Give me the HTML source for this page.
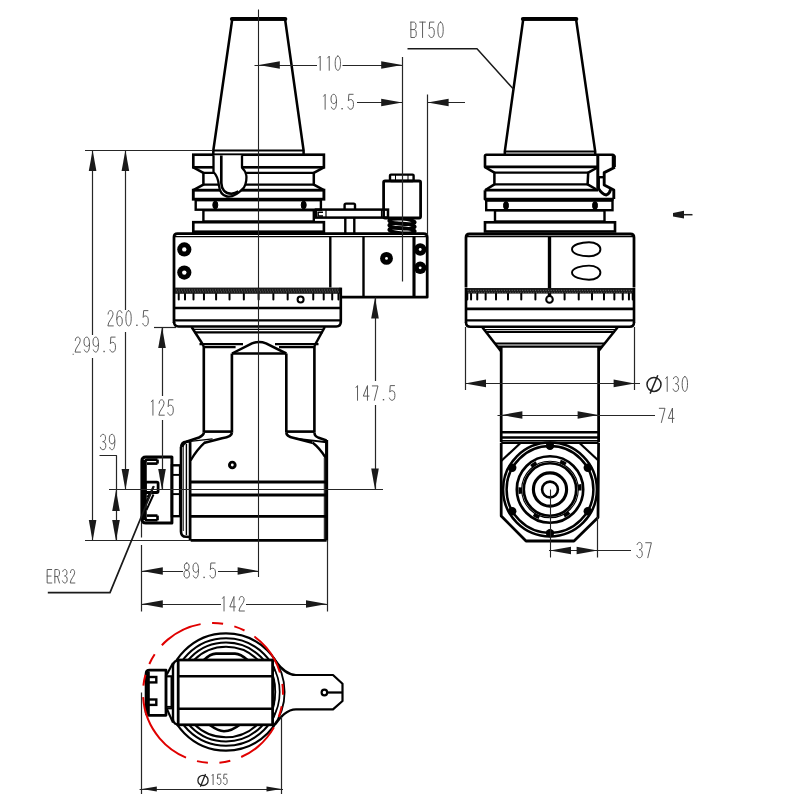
<!DOCTYPE html>
<html><head><meta charset="utf-8"><style>
html,body{margin:0;padding:0;background:#fff;width:800px;height:800px;overflow:hidden;font-family:"Liberation Sans",sans-serif;}
svg{display:block}
</style></head><body>
<svg width="800" height="800" viewBox="0 0 800 800" shape-rendering="geometricPrecision">
<rect width="800" height="800" fill="#fff"/>
<path d="M213.3,154 L213.3,150.5 L232.2,19.5 L285.1,19.5 L303.6,150.5 L303.6,154" fill="none" stroke="#000" stroke-width="2.52" stroke-linejoin="round" />
<line x1="213.3" y1="150.5" x2="303.6" y2="150.5" stroke="#000" stroke-width="2.16" />
<line x1="231.8" y1="18.9" x2="285.4" y2="18.9" stroke="#000" stroke-width="3.84" stroke-linecap="round"/>
<rect x="193.3" y="154.7" width="130.6" height="12.6" rx="0" fill="none" stroke="#000" stroke-width="2.64"/>
<path d="M193.3,167.3 L203.4,172.9 L203.4,184.6 L193.3,190.2" fill="none" stroke="#000" stroke-width="2.52" stroke-linejoin="round" />
<path d="M323.9,167.3 L313.8,172.9 L313.8,184.6 L323.9,190.2" fill="none" stroke="#000" stroke-width="2.52" stroke-linejoin="round" />
<line x1="203.4" y1="172.9" x2="313.8" y2="172.9" stroke="#000" stroke-width="2.28" />
<line x1="203.4" y1="184.6" x2="313.8" y2="184.6" stroke="#000" stroke-width="2.28" />
<rect x="193.3" y="190.2" width="130.6" height="9.0" rx="0" fill="none" stroke="#000" stroke-width="2.88"/>
<rect x="195.7" y="200.2" width="125.2" height="9.5" rx="0" fill="none" stroke="#000" stroke-width="2.4"/>
<ellipse cx="215.3" cy="205" rx="2.5" ry="3.9" fill="#000" stroke="#000" stroke-width="1.0"/>
<ellipse cx="303.7" cy="205" rx="2.5" ry="3.9" fill="#000" stroke="#000" stroke-width="1.0"/>
<rect x="203.4" y="210.2" width="110.4" height="11.3" rx="0" fill="none" stroke="#000" stroke-width="2.4"/>
<rect x="193.3" y="222.2" width="130.6" height="9.5" rx="0" fill="none" stroke="#000" stroke-width="2.64"/>
<path d="M213.5,155.2 L213.5,172 C216.5,175 218.3,179 218.9,185.4 C219.5,191 222,195.5 227,196.5 C232,197.5 238,194 243.8,187.8 C246.5,184 246.8,177 246.2,174.7 C245.5,171.5 244,169.5 242,167.6 L242,155.2" fill="#fff" stroke="#000" stroke-width="2.3" stroke-linejoin="round"/>
<path d="M221.3,155.5 L221.3,183 C221.5,189 225,193.5 231.3,193.7 C234,193.7 236,193 238.5,191.5" fill="none" stroke="#000" stroke-width="2.64" stroke-linejoin="round" />
<path d="M174,323 L174,237 Q174,233.6 177.5,233.6 L423.5,233.6 Q427.2,233.6 427.2,237 L427.2,297.2 L340.5,297.2" fill="none" stroke="#000" stroke-width="2.76" stroke-linejoin="round" />
<line x1="174" y1="236.6" x2="427" y2="236.6" stroke="#000" stroke-width="1.4" />
<line x1="330.3" y1="236" x2="330.3" y2="287.5" stroke="#000" stroke-width="2.4" />
<line x1="363.5" y1="236" x2="363.5" y2="297" stroke="#000" stroke-width="2.4" />
<line x1="414" y1="236" x2="414" y2="297" stroke="#000" stroke-width="3.12" />
<circle cx="184.3" cy="249.4" r="7.1" fill="#000" stroke="#000" stroke-width="0" />
<circle cx="184.3" cy="249.4" r="2.2" fill="#fff" stroke="#000" stroke-width="0" />
<circle cx="184.3" cy="272.6" r="7.1" fill="#000" stroke="#000" stroke-width="0" />
<circle cx="184.3" cy="272.6" r="2.2" fill="#fff" stroke="#000" stroke-width="0" />
<circle cx="386.5" cy="258.4" r="6.4" fill="#000" stroke="#000" stroke-width="0" />
<circle cx="386.5" cy="258.4" r="1.4" fill="#fff" stroke="#000" stroke-width="0" />
<circle cx="420.2" cy="249.5" r="6.2" fill="#000" stroke="#000" stroke-width="0" />
<circle cx="420.2" cy="249.5" r="1.4" fill="#fff" stroke="#000" stroke-width="0" />
<circle cx="420.2" cy="267.8" r="6.2" fill="#000" stroke="#000" stroke-width="0" />
<circle cx="420.2" cy="267.8" r="1.4" fill="#fff" stroke="#000" stroke-width="0" />
<rect x="175" y="287.6" width="165.5" height="6.2" fill="#1a1a1a"/>
<line x1="176" y1="290.0" x2="339.5" y2="290.0" stroke="#777" stroke-width="0.9" stroke-dasharray="1,1.6"/>
<line x1="176.8" y1="291.90000000000003" x2="339.5" y2="291.90000000000003" stroke="#666" stroke-width="0.9" stroke-dasharray="1,1.6"/>
<line x1="178.73" y1="294" x2="178.73" y2="299.6" stroke="#000" stroke-width="2" stroke-linecap="round"/>
<line x1="184.99" y1="294" x2="184.99" y2="299.6" stroke="#000" stroke-width="2" stroke-linecap="round"/>
<line x1="193.49" y1="294" x2="193.49" y2="299.6" stroke="#000" stroke-width="2" stroke-linecap="round"/>
<line x1="203.96" y1="294" x2="203.96" y2="299.6" stroke="#000" stroke-width="2" stroke-linecap="round"/>
<line x1="216.1" y1="294" x2="216.1" y2="299.6" stroke="#000" stroke-width="2" stroke-linecap="round"/>
<line x1="229.53" y1="294" x2="229.53" y2="299.6" stroke="#000" stroke-width="2" stroke-linecap="round"/>
<line x1="243.84" y1="294" x2="243.84" y2="299.6" stroke="#000" stroke-width="2" stroke-linecap="round"/>
<line x1="258.6" y1="294" x2="258.6" y2="299.6" stroke="#000" stroke-width="2" stroke-linecap="round"/>
<line x1="273.36" y1="294" x2="273.36" y2="299.6" stroke="#000" stroke-width="2" stroke-linecap="round"/>
<line x1="287.67" y1="294" x2="287.67" y2="299.6" stroke="#000" stroke-width="2" stroke-linecap="round"/>
<line x1="313.24" y1="294" x2="313.24" y2="299.6" stroke="#000" stroke-width="2" stroke-linecap="round"/>
<line x1="323.71" y1="294" x2="323.71" y2="299.6" stroke="#000" stroke-width="2" stroke-linecap="round"/>
<line x1="332.21" y1="294" x2="332.21" y2="299.6" stroke="#000" stroke-width="2" stroke-linecap="round"/>
<line x1="338.47" y1="294" x2="338.47" y2="299.6" stroke="#000" stroke-width="2" stroke-linecap="round"/>
<circle cx="300.6" cy="299.6" r="3.0" fill="#fff" stroke="#000" stroke-width="2.04" />
<line x1="340.8" y1="287.6" x2="340.8" y2="322.5" stroke="#000" stroke-width="2.64" />
<line x1="174" y1="308" x2="340.8" y2="308" stroke="#000" stroke-width="2.64" />
<line x1="174" y1="320.3" x2="340.8" y2="320.3" stroke="#000" stroke-width="2.16" />
<path d="M174,322 Q174,326.4 178.5,326.4 L336.3,326.4 Q340.8,326.4 340.8,322" fill="none" stroke="#000" stroke-width="2.52" stroke-linejoin="round" />
<line x1="191.6" y1="327" x2="203.8" y2="346" stroke="#000" stroke-width="2.52" />
<line x1="324.8" y1="327" x2="314.4" y2="346" stroke="#000" stroke-width="2.52" />
<line x1="192.5" y1="329.4" x2="324" y2="329.4" stroke="#000" stroke-width="1.2" />
<line x1="194.5" y1="332.3" x2="322.6" y2="332.3" stroke="#000" stroke-width="2.16" />
<line x1="199.5" y1="344.2" x2="243" y2="344.2" stroke="#000" stroke-width="2.16" />
<line x1="275" y1="344.2" x2="318.5" y2="344.2" stroke="#000" stroke-width="2.16" />
<line x1="203.8" y1="347.2" x2="235.6" y2="347.2" stroke="#000" stroke-width="2.16" />
<line x1="279" y1="347.2" x2="314.4" y2="347.2" stroke="#000" stroke-width="2.16" />
<path d="M232,353.5 L252,343.3 Q259,340.5 266,343.3 L286.3,353.5" fill="none" stroke="#000" stroke-width="2.52" stroke-linejoin="round" />
<line x1="232" y1="353.5" x2="286.3" y2="353.5" stroke="#000" stroke-width="2.4" />
<line x1="203.8" y1="346" x2="203.8" y2="432.5" stroke="#000" stroke-width="2.64" />
<line x1="231.9" y1="353.5" x2="231.9" y2="432.5" stroke="#000" stroke-width="2.64" />
<line x1="286.3" y1="353.5" x2="286.3" y2="432.5" stroke="#000" stroke-width="2.64" />
<line x1="314.4" y1="346" x2="314.4" y2="432.5" stroke="#000" stroke-width="2.64" />
<line x1="203.8" y1="431.6" x2="231.9" y2="431.6" stroke="#000" stroke-width="2.64" />
<line x1="286.3" y1="431.6" x2="314.4" y2="431.6" stroke="#000" stroke-width="2.64" />
<path d="M203.8,432.5 C203.8,435 202,436 199,437.5 L187,441.6 C184,443 182.5,444 182.5,447" fill="none" stroke="#000" stroke-width="2.64" stroke-linejoin="round" />
<path d="M231.9,432.5 C231.9,436 228,437.5 222,438.3 L204.7,442.7" fill="none" stroke="#000" stroke-width="2.64" stroke-linejoin="round" />
<path d="M190.3,441.4 L212.6,438.8" fill="none" stroke="#000" stroke-width="1.2" stroke-linejoin="round" />
<path d="M286.3,432.5 C286.3,435.5 289,437 294,438 L312.3,442.6" fill="none" stroke="#000" stroke-width="2.64" stroke-linejoin="round" />
<path d="M314.4,432.5 C314.4,435 315.5,436.5 318,437.5 L326.6,440.5" fill="none" stroke="#000" stroke-width="2.4" stroke-linejoin="round" />
<path d="M296,438.6 L326.6,442.3" fill="none" stroke="#000" stroke-width="1.92" stroke-linejoin="round" />
<path d="M205.2,442.2 Q197,449.5 190.6,460.5" fill="none" stroke="#000" stroke-width="2.4" stroke-linejoin="round" />
<path d="M312.5,442.5 Q320,448.5 325.5,457.5" fill="none" stroke="#000" stroke-width="2.4" stroke-linejoin="round" />
<line x1="190.1" y1="441.5" x2="190.1" y2="540.4" stroke="#000" stroke-width="2.76" />
<line x1="326.6" y1="440" x2="326.6" y2="540.4" stroke="#000" stroke-width="3.12" />
<line x1="324.3" y1="458" x2="324.3" y2="540" stroke="#000" stroke-width="1.0" />
<line x1="190.7" y1="482" x2="326.6" y2="482" stroke="#000" stroke-width="2.76" />
<line x1="190.7" y1="495" x2="326.6" y2="495" stroke="#000" stroke-width="2.76" />
<line x1="190.7" y1="516.4" x2="326.6" y2="516.4" stroke="#000" stroke-width="2.76" />
<line x1="190.7" y1="540.4" x2="326.6" y2="540.4" stroke="#000" stroke-width="2.88" />
<circle cx="232.3" cy="465" r="4.3" fill="#000" stroke="#000" stroke-width="0" />
<circle cx="232.3" cy="465" r="1.4" fill="#fff" stroke="#000" stroke-width="0" />
<path d="M181,447 L181,531.5 Q181,536.8 186,536.8 L190.2,537" fill="none" stroke="#000" stroke-width="2.64" stroke-linejoin="round" />
<path d="M181,447 Q181.5,442.3 186,441.8 L190,441.3" fill="none" stroke="#000" stroke-width="2.4" stroke-linejoin="round" />
<line x1="183.3" y1="447" x2="183.3" y2="531" stroke="#000" stroke-width="0.9" />
<line x1="186.4" y1="444" x2="186.4" y2="535" stroke="#000" stroke-width="1.4" />
<rect x="171.9" y="465.3" width="8.2" height="50.9" rx="0" fill="none" stroke="#000" stroke-width="2.4"/>
<line x1="171.9" y1="474.9" x2="180.1" y2="474.9" stroke="#000" stroke-width="1.92" />
<line x1="171.9" y1="494.1" x2="180.1" y2="494.1" stroke="#000" stroke-width="1.92" />
<path d="M171.9,457 L146,457 Q141.9,457 141.9,461 L141.9,519 Q141.9,523 146,523 L171.9,523 Z" fill="none" stroke="#000" stroke-width="3.0" stroke-linejoin="round" />
<path d="M157.5,459.6 L147.5,459.6 Q145.3,459.6 145.3,462 L145.3,518 Q145.3,520.3 147.5,520.3 L157.5,520.3" fill="none" stroke="#000" stroke-width="2.64" stroke-linejoin="round" />
<rect x="142" y="460" width="4.4" height="60" fill="#000"/>
<line x1="147" y1="463.6" x2="157.5" y2="463.6" stroke="#000" stroke-width="2.64" />
<line x1="157.5" y1="459.6" x2="157.5" y2="463.6" stroke="#000" stroke-width="2.64" />
<rect x="145.3" y="482.2" width="12.8" height="10.3" rx="1.2" fill="none" stroke="#000" stroke-width="2.76"/>
<line x1="147" y1="515.6" x2="157.5" y2="515.6" stroke="#000" stroke-width="2.64" />
<line x1="157.5" y1="515.6" x2="157.5" y2="520.3" stroke="#000" stroke-width="2.64" />
<line x1="146" y1="503" x2="153.5" y2="486.5" stroke="#000" stroke-width="1.92" />
<line x1="146.5" y1="510" x2="153.5" y2="494.5" stroke="#000" stroke-width="1.92" />
<line x1="147" y1="497" x2="150.5" y2="492.5" stroke="#000" stroke-width="1.4" />
<rect x="316" y="209.6" width="72" height="8" rx="0" fill="none" stroke="#000" stroke-width="2.52"/>
<line x1="326" y1="209.6" x2="326" y2="217.6" stroke="#000" stroke-width="1.2" />
<line x1="381.5" y1="209.6" x2="381.5" y2="217.6" stroke="#000" stroke-width="1.2" />
<path d="M323,212.2 L318.2,212.2 L318.2,216 L323,216" fill="none" stroke="#000" stroke-width="1.4" stroke-linejoin="round" />
<path d="M344.6,209.6 L344.6,205 Q344.6,203.6 346,203.6 L353.6,203.6 Q355,203.6 355,205 L355,209.6" fill="none" stroke="#000" stroke-width="2.4" stroke-linejoin="round" />
<line x1="345.3" y1="217.6" x2="345.3" y2="233" stroke="#000" stroke-width="2.4" />
<line x1="354.3" y1="217.6" x2="354.3" y2="233" stroke="#000" stroke-width="2.4" />
<rect x="383.6" y="181" width="37" height="37" rx="1.5" fill="none" stroke="#000" stroke-width="2.76"/>
<rect x="390" y="174.6" width="23.6" height="6.4" rx="1" fill="none" stroke="#000" stroke-width="2.4"/>
<line x1="395.5" y1="174.6" x2="395.5" y2="181" stroke="#000" stroke-width="1.0" />
<line x1="408" y1="174.6" x2="408" y2="181" stroke="#000" stroke-width="1.0" />
<ellipse cx="402" cy="221.5" rx="13" ry="2.6" fill="none" stroke="#000" stroke-width="3.3" transform="rotate(4 402 221.5)"/>
<ellipse cx="402" cy="226" rx="13" ry="2.6" fill="none" stroke="#000" stroke-width="3.3" transform="rotate(4 402 226)"/>
<ellipse cx="402" cy="230.5" rx="13" ry="2.6" fill="none" stroke="#000" stroke-width="3.3" transform="rotate(4 402 230.5)"/>
<path d="M504.8,154 L504.8,151.4 L523.2,19.5 L576.1,19.5 L595.2,151.4 L595.2,154" fill="none" stroke="#000" stroke-width="2.52" stroke-linejoin="round" />
<line x1="522.8" y1="18.9" x2="576.4" y2="18.9" stroke="#000" stroke-width="3.84" stroke-linecap="round"/>
<line x1="505" y1="151.4" x2="595" y2="151.4" stroke="#000" stroke-width="2.04" />
<path d="M597.8,166.9 L485,166.9 L485,156 Q485,154.8 486.2,154.8 L612.5,154.8 Q614,154.8 614,156.5 L614,167.2" fill="none" stroke="#000" stroke-width="2.64" stroke-linejoin="round" />
<line x1="613.8" y1="155.5" x2="613.8" y2="167" stroke="#000" stroke-width="4.08" />
<path d="M614.9,167.2 L604.2,172.6 L604.2,185 L613.8,190 L613.8,199" fill="none" stroke="#000" stroke-width="2.88" stroke-linejoin="round" />
<line x1="597.8" y1="155" x2="597.8" y2="188" stroke="#000" stroke-width="3.0" />
<line x1="598.5" y1="177.2" x2="603.5" y2="177.2" stroke="#000" stroke-width="2.4" />
<path d="M598.5,178 L598.5,188.6 Q602,194.5 606.3,195 Q609.9,193.5 610.6,189.3" fill="none" stroke="#000" stroke-width="2.88" stroke-linejoin="round" />
<path d="M485,167.2 L494.4,172.7 L494.4,184.4 L485,190.2" fill="none" stroke="#000" stroke-width="2.52" stroke-linejoin="round" />
<path d="M597.5,167.5 L588.2,172.7 L587.6,184.4 L596.5,189.5" fill="none" stroke="#000" stroke-width="2.52" stroke-linejoin="round" />
<line x1="494.4" y1="172.7" x2="588.2" y2="172.7" stroke="#000" stroke-width="2.28" />
<line x1="494.4" y1="184.4" x2="587.6" y2="184.4" stroke="#000" stroke-width="2.28" />
<path d="M485,190.2 L485,199.2 L613.8,199.2" fill="none" stroke="#000" stroke-width="2.76" stroke-linejoin="round" />
<line x1="485" y1="190.2" x2="598" y2="190.2" stroke="#000" stroke-width="2.76" />
<rect x="486.2" y="200.6" width="126.3" height="9.6" rx="0" fill="none" stroke="#000" stroke-width="2.4"/>
<ellipse cx="506" cy="205.5" rx="2.5" ry="3.9" fill="#000" stroke="#000" stroke-width="1.0"/>
<ellipse cx="595" cy="205.5" rx="2.5" ry="3.9" fill="#000" stroke="#000" stroke-width="1.0"/>
<rect x="495" y="210.3" width="109.5" height="11.2" rx="0" fill="none" stroke="#000" stroke-width="2.4"/>
<rect x="485" y="222.3" width="130" height="9.2" rx="0" fill="none" stroke="#000" stroke-width="2.64"/>
<path d="M466,287.5 L466,237.5 Q466,234 469.5,234 L630.5,234 Q634,234 634,237.5 L634,287.5" fill="none" stroke="#000" stroke-width="2.76" stroke-linejoin="round" />
<line x1="467" y1="236.6" x2="633" y2="236.6" stroke="#000" stroke-width="1.4" />
<line x1="549.5" y1="236" x2="549.5" y2="296" stroke="#000" stroke-width="3.36" />
<path d="M572,249.2 C572,244.6 581.5,242.2 589,242.2 C596,242.2 600.4,245.6 600.4,249.2 C600.4,253.0 596,256.3 589,256.3 C581.5,256.3 572,254.0 572,249.2 Z" fill="none" stroke="#000" stroke-width="1.92" stroke-linejoin="round" />
<path d="M572,272.6 C572,268.0 581.5,265.6 589,265.6 C596,265.6 600.4,269.0 600.4,272.6 C600.4,276.40000000000003 596,279.70000000000005 589,279.70000000000005 C581.5,279.70000000000005 572,277.40000000000003 572,272.6 Z" fill="none" stroke="#000" stroke-width="1.92" stroke-linejoin="round" />
<rect x="466.5" y="288" width="167" height="5.6" fill="#1a1a1a"/>
<line x1="467.5" y1="290.4" x2="632.5" y2="290.4" stroke="#777" stroke-width="0.9" stroke-dasharray="1,1.6"/>
<line x1="468.3" y1="292.3" x2="632.5" y2="292.3" stroke="#666" stroke-width="0.9" stroke-dasharray="1,1.6"/>
<line x1="467.28" y1="293.8" x2="467.28" y2="299.4" stroke="#000" stroke-width="2" stroke-linecap="round"/>
<line x1="471.07" y1="293.8" x2="471.07" y2="299.4" stroke="#000" stroke-width="2" stroke-linecap="round"/>
<line x1="477.25" y1="293.8" x2="477.25" y2="299.4" stroke="#000" stroke-width="2" stroke-linecap="round"/>
<line x1="485.65" y1="293.8" x2="485.65" y2="299.4" stroke="#000" stroke-width="2" stroke-linecap="round"/>
<line x1="496.01" y1="293.8" x2="496.01" y2="299.4" stroke="#000" stroke-width="2" stroke-linecap="round"/>
<line x1="508.0" y1="293.8" x2="508.0" y2="299.4" stroke="#000" stroke-width="2" stroke-linecap="round"/>
<line x1="521.27" y1="293.8" x2="521.27" y2="299.4" stroke="#000" stroke-width="2" stroke-linecap="round"/>
<line x1="535.41" y1="293.8" x2="535.41" y2="299.4" stroke="#000" stroke-width="2" stroke-linecap="round"/>
<line x1="564.59" y1="293.8" x2="564.59" y2="299.4" stroke="#000" stroke-width="2" stroke-linecap="round"/>
<line x1="578.73" y1="293.8" x2="578.73" y2="299.4" stroke="#000" stroke-width="2" stroke-linecap="round"/>
<line x1="592.0" y1="293.8" x2="592.0" y2="299.4" stroke="#000" stroke-width="2" stroke-linecap="round"/>
<line x1="603.99" y1="293.8" x2="603.99" y2="299.4" stroke="#000" stroke-width="2" stroke-linecap="round"/>
<line x1="614.35" y1="293.8" x2="614.35" y2="299.4" stroke="#000" stroke-width="2" stroke-linecap="round"/>
<line x1="622.75" y1="293.8" x2="622.75" y2="299.4" stroke="#000" stroke-width="2" stroke-linecap="round"/>
<line x1="628.93" y1="293.8" x2="628.93" y2="299.4" stroke="#000" stroke-width="2" stroke-linecap="round"/>
<line x1="632.72" y1="293.8" x2="632.72" y2="299.4" stroke="#000" stroke-width="2" stroke-linecap="round"/>
<circle cx="549.5" cy="299.4" r="3.3" fill="#fff" stroke="#000" stroke-width="2.04" />
<line x1="466" y1="288" x2="466" y2="323" stroke="#000" stroke-width="2.64" />
<line x1="634" y1="288" x2="634" y2="323" stroke="#000" stroke-width="2.64" />
<line x1="466" y1="308.8" x2="634" y2="308.8" stroke="#000" stroke-width="2.76" />
<line x1="466" y1="320.4" x2="634" y2="320.4" stroke="#000" stroke-width="2.16" />
<path d="M466,322.5 Q466,326.8 470.5,326.8 L629.5,326.8 Q634,326.8 634,322.5" fill="none" stroke="#000" stroke-width="2.52" stroke-linejoin="round" />
<line x1="482.5" y1="327.5" x2="500.8" y2="351" stroke="#000" stroke-width="2.52" />
<line x1="617.5" y1="327.5" x2="598.6" y2="351" stroke="#000" stroke-width="2.52" />
<line x1="483.5" y1="329.5" x2="616.5" y2="329.5" stroke="#000" stroke-width="1.2" />
<line x1="485" y1="331.8" x2="615" y2="331.8" stroke="#000" stroke-width="2.16" />
<line x1="495" y1="343.5" x2="605" y2="343.5" stroke="#000" stroke-width="2.16" />
<line x1="497.5" y1="346.6" x2="602.5" y2="346.6" stroke="#000" stroke-width="2.16" />
<line x1="501.2" y1="346" x2="501.2" y2="442" stroke="#000" stroke-width="2.76" />
<line x1="598.6" y1="346" x2="598.6" y2="442" stroke="#000" stroke-width="2.76" />
<line x1="501.2" y1="432.2" x2="598.6" y2="432.2" stroke="#000" stroke-width="2.64" />
<line x1="501.2" y1="437.5" x2="598.6" y2="437.5" stroke="#000" stroke-width="2.4" />
<line x1="501.2" y1="440.6" x2="598.6" y2="440.6" stroke="#000" stroke-width="1.1" />
<path d="M501.2,442.8 L501.2,516 L526,541 L574,541 L598,517.5 L598.6,442.8" fill="none" stroke="#000" stroke-width="2.76" stroke-linejoin="round" />
<line x1="501.2" y1="442.8" x2="598.6" y2="442.8" stroke="#000" stroke-width="2.4" />
<line x1="501.2" y1="461" x2="520.5" y2="443" stroke="#000" stroke-width="2.16" />
<line x1="579.5" y1="443" x2="597.8" y2="460" stroke="#000" stroke-width="2.16" />
<circle cx="550" cy="489.5" r="46.9" fill="none" stroke="#000" stroke-width="2.52" />
<circle cx="550" cy="489.5" r="43.4" fill="none" stroke="#000" stroke-width="2.52" />
<circle cx="587.76" cy="511.3" r="4.2" fill="#000" stroke="#000" stroke-width="0" />
<circle cx="550.0" cy="533.1" r="4.2" fill="#000" stroke="#000" stroke-width="0" />
<circle cx="512.24" cy="511.3" r="4.2" fill="#000" stroke="#000" stroke-width="0" />
<circle cx="512.24" cy="467.7" r="4.2" fill="#000" stroke="#000" stroke-width="0" />
<circle cx="550.0" cy="445.9" r="4.2" fill="#000" stroke="#000" stroke-width="0" />
<circle cx="587.76" cy="467.7" r="4.2" fill="#000" stroke="#000" stroke-width="0" />
<circle cx="550" cy="489.5" r="33.2" fill="none" stroke="#000" stroke-width="2.64" />
<circle cx="550" cy="489.5" r="28.3" fill="none" stroke="#000" stroke-width="1.1" />
<path d="M579.35,484.33 A29.8,29.8 0 0 1 579.78,490.54" fill="none" stroke="#000" stroke-width="3.6"/>
<path d="M569.16,512.33 A29.8,29.8 0 0 1 563.99,515.81" fill="none" stroke="#000" stroke-width="3.6"/>
<path d="M539.32,517.32 A29.8,29.8 0 0 1 533.77,514.49" fill="none" stroke="#000" stroke-width="3.6"/>
<path d="M520.49,493.65 A29.8,29.8 0 0 1 520.27,487.42" fill="none" stroke="#000" stroke-width="3.6"/>
<path d="M531.25,466.34 A29.8,29.8 0 0 1 536.47,462.95" fill="none" stroke="#000" stroke-width="3.6"/>
<path d="M560.19,461.50 A29.8,29.8 0 0 1 565.79,464.23" fill="none" stroke="#000" stroke-width="3.6"/>
<circle cx="550" cy="489.5" r="26.2" fill="none" stroke="#000" stroke-width="2.64" />
<circle cx="550" cy="489.5" r="16.6" fill="none" stroke="#000" stroke-width="3.12" />
<circle cx="550" cy="489.5" r="7.9" fill="none" stroke="#000" stroke-width="2.64" />
<circle cx="226" cy="692" r="58.6" fill="none" stroke="#000" stroke-width="2.16" />
<circle cx="226" cy="692" r="53.7" fill="none" stroke="#000" stroke-width="2.04" />
<circle cx="226" cy="692" r="49.4" fill="none" stroke="#000" stroke-width="2.04" />
<circle cx="226" cy="692" r="45.2" fill="none" stroke="#000" stroke-width="2.04" />
<path d="M204,660 C208,656 211,653.8 216,653.6 L235,653.6 C240,653.8 243,656 247.5,660" fill="none" stroke="#000" stroke-width="2.64" stroke-linejoin="round" />
<path d="M209,724.5 C214,728 218,731 224,731.3 C230,731 235,728.5 240,724.5" fill="none" stroke="#000" stroke-width="2.64" stroke-linejoin="round" />
<rect x="160" y="660.5" width="112.6" height="64" fill="#fff" stroke="none"/>
<rect x="178.2" y="660" width="94.4" height="64.8" rx="0" fill="none" stroke="#000" stroke-width="2.76"/>
<line x1="178.2" y1="676.3" x2="272.6" y2="676.3" stroke="#000" stroke-width="2.64" />
<line x1="178.2" y1="708.8" x2="272.6" y2="708.8" stroke="#000" stroke-width="2.64" />
<path d="M178.2,660 L175,661.5 Q173,663 173,666 L173,719 Q173,722 175,723.5 L178.2,725" fill="none" stroke="#000" stroke-width="2.4" stroke-linejoin="round" />
<path d="M166.8,674.6 L173,663" fill="none" stroke="#000" stroke-width="2.16" stroke-linejoin="round" />
<path d="M166.8,708.8 L173,722.6" fill="none" stroke="#000" stroke-width="2.16" stroke-linejoin="round" />
<rect x="166" y="676.3" width="5.6" height="32" rx="0" fill="none" stroke="#000" stroke-width="2.16"/>
<line x1="166" y1="706.6" x2="171.6" y2="706.6" stroke="#000" stroke-width="1.4" />
<path d="M166,670.2 L149.5,670.2 Q146.1,670.2 146.1,673.5 L146.1,712 Q146.1,715.3 149.5,715.3 L166,715.3 Z" fill="none" stroke="#000" stroke-width="2.76" stroke-linejoin="round" />
<rect x="146" y="671.5" width="3.8" height="42.5" fill="#000"/>
<rect x="147.5" y="677" width="8.8" height="5.4" rx="0" fill="none" stroke="#000" stroke-width="2.4"/>
<rect x="147.5" y="699.5" width="8.8" height="5.4" rx="0" fill="none" stroke="#000" stroke-width="2.4"/>
<path d="M275.5,661 C281,668.5 287,675 296,675 L333,675 L342.5,683.75 L342.5,701 L333,709.4 L296,709.4 C287,709.4 281,716.5 275.5,724" fill="#fff" stroke="#000" stroke-width="2.2" stroke-linejoin="round"/>
<path d="M226,692 m0,-59.5 a59.5,59.5 0 0 1 0,119" fill="none" stroke="#000" stroke-width="0"/>
<path d="M272.6,656.47 A58.6,58.6 0 0 1 272.6,727.53" fill="none" stroke="#000" stroke-width="1.8"/>
<path d="M272.6,665.31 A53.7,53.7 0 0 1 272.6,718.69" fill="none" stroke="#000" stroke-width="1.7"/>
<path d="M272.6,675.60 A49.4,49.4 0 0 1 272.6,708.40" fill="none" stroke="#000" stroke-width="1.4"/>
<circle cx="324.4" cy="692.5" r="2.8" fill="#fff" stroke="#000" stroke-width="2.16" />
<line x1="327.2" y1="692.5" x2="342.5" y2="692.5" stroke="#000" stroke-width="2.28" />
<path d="M159.61,738.28 A70,70 0 0 1 266.39,647.72 A70,70 0 0 1 159.61,738.28" fill="none" stroke="#e00000" stroke-width="2.0" stroke-dasharray="45,11.5,11,11.5,11,11.5"/>
<line x1="258.5" y1="9.6" x2="258.5" y2="577" stroke="#222" stroke-width="1.1" />
<line x1="254.5" y1="65.5" x2="317" y2="65.5" stroke="#262626" stroke-width="1.2" />
<line x1="342.5" y1="65.5" x2="402" y2="65.5" stroke="#262626" stroke-width="1.2" />
<path d="M258.80,65.00 L279.80,61.20 L279.80,68.80 Z" fill="#1a1a1a" stroke="none"/>
<path d="M402.20,65.00 L381.20,61.20 L381.20,68.80 Z" fill="#1a1a1a" stroke="none"/>
<path transform="translate(317.00,56.10) scale(0.950,1.014)" d="M1.8,1.8 L3.4,0 L3.4,14" fill="none" stroke="#555" stroke-width="0.95" vector-effect="non-scaling-stroke" stroke-linecap="round" stroke-linejoin="round"/>
<path transform="translate(326.00,56.10) scale(0.950,1.014)" d="M1.8,1.8 L3.4,0 L3.4,14" fill="none" stroke="#555" stroke-width="0.95" vector-effect="non-scaling-stroke" stroke-linecap="round" stroke-linejoin="round"/>
<path transform="translate(335.00,56.10) scale(0.950,1.014)" d="M3,0 C1.2,0 0.2,2.8 0.2,7 C0.2,11.2 1.2,14 3,14 C4.8,14 5.8,11.2 5.8,7 C5.8,2.8 4.8,0 3,0 Z" fill="none" stroke="#555" stroke-width="0.95" vector-effect="non-scaling-stroke" stroke-linecap="round" stroke-linejoin="round"/>
<line x1="402.5" y1="57" x2="402.5" y2="281.5" stroke="#262626" stroke-width="1.2" />
<line x1="357" y1="102.5" x2="402" y2="102.5" stroke="#262626" stroke-width="1.2" />
<line x1="427.6" y1="102.5" x2="465" y2="102.5" stroke="#262626" stroke-width="1.2" />
<path d="M402.20,102.50 L381.20,98.70 L381.20,106.30 Z" fill="#1a1a1a" stroke="none"/>
<path d="M427.60,102.50 L448.60,98.70 L448.60,106.30 Z" fill="#1a1a1a" stroke="none"/>
<path transform="translate(321.90,94.30) scale(0.950,1.071)" d="M1.8,1.8 L3.4,0 L3.4,14" fill="none" stroke="#555" stroke-width="0.95" vector-effect="non-scaling-stroke" stroke-linecap="round" stroke-linejoin="round"/>
<path transform="translate(330.90,94.30) scale(0.950,1.071)" d="M0.5,12 C1,13.3 1.9,14 3,14 C4.9,14 5.9,11.2 5.9,6.8 C5.9,2.5 4.9,0 3,0 C1.1,0 0.1,1.8 0.1,4.4 C0.1,7 1.1,8.7 3,8.7 C4.4,8.7 5.5,7.6 5.9,6" fill="none" stroke="#555" stroke-width="0.95" vector-effect="non-scaling-stroke" stroke-linecap="round" stroke-linejoin="round"/>
<rect x="341.40" y="108.00" width="1.4" height="1.4" fill="#555"/>
<path transform="translate(347.90,94.30) scale(0.950,1.071)" d="M5.5,0 L1,0 L0.5,6.2 C1.2,5.2 2,4.9 3,4.9 C5,4.9 5.9,6.6 5.9,9.4 C5.9,12.4 4.7,14 3,14 C1.6,14 0.6,13.1 0.1,11.8" fill="none" stroke="#555" stroke-width="0.95" vector-effect="non-scaling-stroke" stroke-linecap="round" stroke-linejoin="round"/>
<line x1="427.5" y1="94.5" x2="427.5" y2="235" stroke="#262626" stroke-width="1.2" />
<path transform="translate(410.70,22.10) scale(0.950,1.100)" d="M0.2,0 L0.2,14 L3.4,14 C5,14 5.9,12.8 5.9,10.4 C5.9,8 5,6.8 3.4,6.8 L0.2,6.8 M0.2,0 L3.2,0 C4.7,0 5.6,1.1 5.6,3.4 C5.6,5.7 4.7,6.8 3.2,6.8" fill="none" stroke="#555" stroke-width="0.95" vector-effect="non-scaling-stroke" stroke-linecap="round" stroke-linejoin="round"/>
<path transform="translate(419.70,22.10) scale(0.950,1.100)" d="M0,0 L6,0 M3,0 L3,14" fill="none" stroke="#555" stroke-width="0.95" vector-effect="non-scaling-stroke" stroke-linecap="round" stroke-linejoin="round"/>
<path transform="translate(428.70,22.10) scale(0.950,1.100)" d="M5.5,0 L1,0 L0.5,6.2 C1.2,5.2 2,4.9 3,4.9 C5,4.9 5.9,6.6 5.9,9.4 C5.9,12.4 4.7,14 3,14 C1.6,14 0.6,13.1 0.1,11.8" fill="none" stroke="#555" stroke-width="0.95" vector-effect="non-scaling-stroke" stroke-linecap="round" stroke-linejoin="round"/>
<path transform="translate(437.70,22.10) scale(0.950,1.100)" d="M3,0 C1.2,0 0.2,2.8 0.2,7 C0.2,11.2 1.2,14 3,14 C4.8,14 5.8,11.2 5.8,7 C5.8,2.8 4.8,0 3,0 Z" fill="none" stroke="#555" stroke-width="0.95" vector-effect="non-scaling-stroke" stroke-linecap="round" stroke-linejoin="round"/>
<path d="M407.5,48.8 L477,48.8 L513.8,89.5" fill="none" stroke="#1a1a1a" stroke-width="1.5" stroke-linejoin="round" />
<line x1="85" y1="150.5" x2="213" y2="150.5" stroke="#262626" stroke-width="1.2" />
<line x1="92.5" y1="150" x2="92.5" y2="335" stroke="#262626" stroke-width="1.2" />
<line x1="92.5" y1="358" x2="92.5" y2="541" stroke="#262626" stroke-width="1.2" />
<path d="M92.60,150.00 L88.80,171.00 L96.40,171.00 Z" fill="#1a1a1a" stroke="none"/>
<path d="M92.60,541.00 L88.80,520.00 L96.40,520.00 Z" fill="#1a1a1a" stroke="none"/>
<path transform="translate(74.90,337.10) scale(0.950,1.071)" d="M0.4,3.2 C0.6,1 1.6,0 3,0 C4.6,0 5.6,1.2 5.6,3.4 C5.6,6.5 0.2,10 0.2,14 L5.9,14" fill="none" stroke="#555" stroke-width="0.95" vector-effect="non-scaling-stroke" stroke-linecap="round" stroke-linejoin="round"/>
<path transform="translate(83.90,337.10) scale(0.950,1.071)" d="M0.5,12 C1,13.3 1.9,14 3,14 C4.9,14 5.9,11.2 5.9,6.8 C5.9,2.5 4.9,0 3,0 C1.1,0 0.1,1.8 0.1,4.4 C0.1,7 1.1,8.7 3,8.7 C4.4,8.7 5.5,7.6 5.9,6" fill="none" stroke="#555" stroke-width="0.95" vector-effect="non-scaling-stroke" stroke-linecap="round" stroke-linejoin="round"/>
<path transform="translate(92.90,337.10) scale(0.950,1.071)" d="M0.5,12 C1,13.3 1.9,14 3,14 C4.9,14 5.9,11.2 5.9,6.8 C5.9,2.5 4.9,0 3,0 C1.1,0 0.1,1.8 0.1,4.4 C0.1,7 1.1,8.7 3,8.7 C4.4,8.7 5.5,7.6 5.9,6" fill="none" stroke="#555" stroke-width="0.95" vector-effect="non-scaling-stroke" stroke-linecap="round" stroke-linejoin="round"/>
<rect x="103.40" y="350.80" width="1.4" height="1.4" fill="#555"/>
<path transform="translate(109.90,337.10) scale(0.950,1.071)" d="M5.5,0 L1,0 L0.5,6.2 C1.2,5.2 2,4.9 3,4.9 C5,4.9 5.9,6.6 5.9,9.4 C5.9,12.4 4.7,14 3,14 C1.6,14 0.6,13.1 0.1,11.8" fill="none" stroke="#555" stroke-width="0.95" vector-effect="non-scaling-stroke" stroke-linecap="round" stroke-linejoin="round"/>
<rect x="72.6" y="353.7" width="1.2" height="1.2" fill="#777"/>
<line x1="125.5" y1="150" x2="125.5" y2="310" stroke="#262626" stroke-width="1.2" />
<line x1="125.5" y1="332" x2="125.5" y2="490" stroke="#262626" stroke-width="1.2" />
<path d="M125.40,150.00 L121.60,171.00 L129.20,171.00 Z" fill="#1a1a1a" stroke="none"/>
<path d="M125.40,490.00 L121.60,469.00 L129.20,469.00 Z" fill="#1a1a1a" stroke="none"/>
<path transform="translate(107.70,310.60) scale(0.950,1.093)" d="M0.4,3.2 C0.6,1 1.6,0 3,0 C4.6,0 5.6,1.2 5.6,3.4 C5.6,6.5 0.2,10 0.2,14 L5.9,14" fill="none" stroke="#555" stroke-width="0.95" vector-effect="non-scaling-stroke" stroke-linecap="round" stroke-linejoin="round"/>
<path transform="translate(116.70,310.60) scale(0.950,1.093)" d="M5.5,2 C5,0.7 4.1,0 3,0 C1.1,0 0.1,2.8 0.1,7.2 C0.1,11.5 1.1,14 3,14 C4.9,14 5.9,12.2 5.9,9.6 C5.9,7 4.9,5.3 3,5.3 C1.6,5.3 0.5,6.4 0.1,8" fill="none" stroke="#555" stroke-width="0.95" vector-effect="non-scaling-stroke" stroke-linecap="round" stroke-linejoin="round"/>
<path transform="translate(125.70,310.60) scale(0.950,1.093)" d="M3,0 C1.2,0 0.2,2.8 0.2,7 C0.2,11.2 1.2,14 3,14 C4.8,14 5.8,11.2 5.8,7 C5.8,2.8 4.8,0 3,0 Z" fill="none" stroke="#555" stroke-width="0.95" vector-effect="non-scaling-stroke" stroke-linecap="round" stroke-linejoin="round"/>
<rect x="136.20" y="324.60" width="1.4" height="1.4" fill="#555"/>
<path transform="translate(142.70,310.60) scale(0.950,1.093)" d="M5.5,0 L1,0 L0.5,6.2 C1.2,5.2 2,4.9 3,4.9 C5,4.9 5.9,6.6 5.9,9.4 C5.9,12.4 4.7,14 3,14 C1.6,14 0.6,13.1 0.1,11.8" fill="none" stroke="#555" stroke-width="0.95" vector-effect="non-scaling-stroke" stroke-linecap="round" stroke-linejoin="round"/>
<line x1="154" y1="327.5" x2="176" y2="327.5" stroke="#262626" stroke-width="1.2" />
<line x1="162.5" y1="327" x2="162.5" y2="396" stroke="#262626" stroke-width="1.2" />
<line x1="162.5" y1="420" x2="162.5" y2="490" stroke="#262626" stroke-width="1.2" />
<path d="M162.00,327.00 L158.20,348.00 L165.80,348.00 Z" fill="#1a1a1a" stroke="none"/>
<path d="M162.00,490.00 L158.20,469.00 L165.80,469.00 Z" fill="#1a1a1a" stroke="none"/>
<path transform="translate(149.70,399.80) scale(0.950,1.100)" d="M1.8,1.8 L3.4,0 L3.4,14" fill="none" stroke="#555" stroke-width="0.95" vector-effect="non-scaling-stroke" stroke-linecap="round" stroke-linejoin="round"/>
<path transform="translate(158.70,399.80) scale(0.950,1.100)" d="M0.4,3.2 C0.6,1 1.6,0 3,0 C4.6,0 5.6,1.2 5.6,3.4 C5.6,6.5 0.2,10 0.2,14 L5.9,14" fill="none" stroke="#555" stroke-width="0.95" vector-effect="non-scaling-stroke" stroke-linecap="round" stroke-linejoin="round"/>
<path transform="translate(167.70,399.80) scale(0.950,1.100)" d="M5.5,0 L1,0 L0.5,6.2 C1.2,5.2 2,4.9 3,4.9 C5,4.9 5.9,6.6 5.9,9.4 C5.9,12.4 4.7,14 3,14 C1.6,14 0.6,13.1 0.1,11.8" fill="none" stroke="#555" stroke-width="0.95" vector-effect="non-scaling-stroke" stroke-linecap="round" stroke-linejoin="round"/>
<path d="M99.5,455.5 L116.5,455.5 L116.5,541" fill="none" stroke="#262626" stroke-width="1.2" stroke-linejoin="round" />
<path d="M116.00,490.00 L112.20,511.00 L119.80,511.00 Z" fill="#1a1a1a" stroke="none"/>
<path d="M116.00,541.00 L112.20,520.00 L119.80,520.00 Z" fill="#1a1a1a" stroke="none"/>
<path transform="translate(100.20,434.30) scale(0.950,1.100)" d="M0.4,2 C1,0.6 1.9,0 3,0 C4.7,0 5.6,1.4 5.6,3.5 C5.6,5.5 4.5,6.7 2.6,6.7 C4.8,6.7 5.9,8.2 5.9,10.4 C5.9,12.8 4.6,14 3,14 C1.6,14 0.6,13.2 0.1,11.8" fill="none" stroke="#555" stroke-width="0.95" vector-effect="non-scaling-stroke" stroke-linecap="round" stroke-linejoin="round"/>
<path transform="translate(109.20,434.30) scale(0.950,1.100)" d="M0.5,12 C1,13.3 1.9,14 3,14 C4.9,14 5.9,11.2 5.9,6.8 C5.9,2.5 4.9,0 3,0 C1.1,0 0.1,1.8 0.1,4.4 C0.1,7 1.1,8.7 3,8.7 C4.4,8.7 5.5,7.6 5.9,6" fill="none" stroke="#555" stroke-width="0.95" vector-effect="non-scaling-stroke" stroke-linecap="round" stroke-linejoin="round"/>
<line x1="109" y1="489.5" x2="383" y2="489.5" stroke="#262626" stroke-width="1.2" />
<line x1="85" y1="540.5" x2="191" y2="540.5" stroke="#262626" stroke-width="1.2" />
<line x1="375.5" y1="297.3" x2="375.5" y2="381" stroke="#262626" stroke-width="1.2" />
<line x1="375.5" y1="405" x2="375.5" y2="489" stroke="#262626" stroke-width="1.2" />
<path d="M375.00,297.50 L371.20,318.50 L378.80,318.50 Z" fill="#1a1a1a" stroke="none"/>
<path d="M375.00,489.50 L371.20,468.50 L378.80,468.50 Z" fill="#1a1a1a" stroke="none"/>
<path transform="translate(354.30,385.60) scale(0.950,1.050)" d="M1.8,1.8 L3.4,0 L3.4,14" fill="none" stroke="#555" stroke-width="0.95" vector-effect="non-scaling-stroke" stroke-linecap="round" stroke-linejoin="round"/>
<path transform="translate(363.30,385.60) scale(0.950,1.050)" d="M4.4,14 L4.4,0 L0,10 L6,10" fill="none" stroke="#555" stroke-width="0.95" vector-effect="non-scaling-stroke" stroke-linecap="round" stroke-linejoin="round"/>
<path transform="translate(372.30,385.60) scale(0.950,1.050)" d="M0,0.3 L6,0.3 L2.2,14" fill="none" stroke="#555" stroke-width="0.95" vector-effect="non-scaling-stroke" stroke-linecap="round" stroke-linejoin="round"/>
<rect x="382.80" y="399.00" width="1.4" height="1.4" fill="#555"/>
<path transform="translate(389.30,385.60) scale(0.950,1.050)" d="M5.5,0 L1,0 L0.5,6.2 C1.2,5.2 2,4.9 3,4.9 C5,4.9 5.9,6.6 5.9,9.4 C5.9,12.4 4.7,14 3,14 C1.6,14 0.6,13.1 0.1,11.8" fill="none" stroke="#555" stroke-width="0.95" vector-effect="non-scaling-stroke" stroke-linecap="round" stroke-linejoin="round"/>
<path transform="translate(47.00,569.50) scale(0.813,0.964)" d="M5.8,0 L0.2,0 L0.2,14 L5.9,14 M0.2,6.8 L5,6.8" fill="none" stroke="#555" stroke-width="0.95" vector-effect="non-scaling-stroke" stroke-linecap="round" stroke-linejoin="round"/>
<path transform="translate(54.70,569.50) scale(0.813,0.964)" d="M0.2,14 L0.2,0 L3.4,0 C5,0 5.9,1.2 5.9,3.6 C5.9,6 5,7.2 3.4,7.2 L0.2,7.2 M3.4,7.2 L5.9,14" fill="none" stroke="#555" stroke-width="0.95" vector-effect="non-scaling-stroke" stroke-linecap="round" stroke-linejoin="round"/>
<path transform="translate(62.40,569.50) scale(0.813,0.964)" d="M0.4,2 C1,0.6 1.9,0 3,0 C4.7,0 5.6,1.4 5.6,3.5 C5.6,5.5 4.5,6.7 2.6,6.7 C4.8,6.7 5.9,8.2 5.9,10.4 C5.9,12.8 4.6,14 3,14 C1.6,14 0.6,13.2 0.1,11.8" fill="none" stroke="#555" stroke-width="0.95" vector-effect="non-scaling-stroke" stroke-linecap="round" stroke-linejoin="round"/>
<path transform="translate(70.10,569.50) scale(0.813,0.964)" d="M0.4,3.2 C0.6,1 1.6,0 3,0 C4.6,0 5.6,1.2 5.6,3.4 C5.6,6.5 0.2,10 0.2,14 L5.9,14" fill="none" stroke="#555" stroke-width="0.95" vector-effect="non-scaling-stroke" stroke-linecap="round" stroke-linejoin="round"/>
<path d="M47.8,592.6 L110,592.6 L154,486" fill="none" stroke="#1a1a1a" stroke-width="1.7" stroke-linejoin="round" />
<line x1="141.5" y1="522" x2="141.5" y2="537.5" stroke="#262626" stroke-width="1.2" />
<line x1="141.5" y1="545" x2="141.5" y2="611.5" stroke="#262626" stroke-width="1.2" />
<line x1="141.8" y1="571.5" x2="183" y2="571.5" stroke="#262626" stroke-width="1.2" />
<line x1="218" y1="571.5" x2="258" y2="571.5" stroke="#262626" stroke-width="1.2" />
<path d="M141.80,571.00 L162.80,567.20 L162.80,574.80 Z" fill="#1a1a1a" stroke="none"/>
<path d="M258.60,571.00 L237.60,567.20 L237.60,574.80 Z" fill="#1a1a1a" stroke="none"/>
<path transform="translate(183.90,563.00) scale(0.950,1.071)" d="M3,0 C1.5,0 0.5,1.3 0.5,3.4 C0.5,5.5 1.5,6.7 3,6.7 C4.5,6.7 5.5,5.5 5.5,3.4 C5.5,1.3 4.5,0 3,0 Z M3,6.7 C1.2,6.7 0.1,8.2 0.1,10.4 C0.1,12.7 1.2,14 3,14 C4.8,14 5.9,12.7 5.9,10.4 C5.9,8.2 4.8,6.7 3,6.7 Z" fill="none" stroke="#555" stroke-width="0.95" vector-effect="non-scaling-stroke" stroke-linecap="round" stroke-linejoin="round"/>
<path transform="translate(192.90,563.00) scale(0.950,1.071)" d="M0.5,12 C1,13.3 1.9,14 3,14 C4.9,14 5.9,11.2 5.9,6.8 C5.9,2.5 4.9,0 3,0 C1.1,0 0.1,1.8 0.1,4.4 C0.1,7 1.1,8.7 3,8.7 C4.4,8.7 5.5,7.6 5.9,6" fill="none" stroke="#555" stroke-width="0.95" vector-effect="non-scaling-stroke" stroke-linecap="round" stroke-linejoin="round"/>
<rect x="203.40" y="576.70" width="1.4" height="1.4" fill="#555"/>
<path transform="translate(209.90,563.00) scale(0.950,1.071)" d="M5.5,0 L1,0 L0.5,6.2 C1.2,5.2 2,4.9 3,4.9 C5,4.9 5.9,6.6 5.9,9.4 C5.9,12.4 4.7,14 3,14 C1.6,14 0.6,13.1 0.1,11.8" fill="none" stroke="#555" stroke-width="0.95" vector-effect="non-scaling-stroke" stroke-linecap="round" stroke-linejoin="round"/>
<line x1="141.8" y1="604.5" x2="221" y2="604.5" stroke="#262626" stroke-width="1.2" />
<line x1="246" y1="604.5" x2="327" y2="604.5" stroke="#262626" stroke-width="1.2" />
<path d="M141.80,604.00 L162.80,600.20 L162.80,607.80 Z" fill="#1a1a1a" stroke="none"/>
<path d="M327.00,604.00 L306.00,600.20 L306.00,607.80 Z" fill="#1a1a1a" stroke="none"/>
<path transform="translate(220.80,596.50) scale(0.950,1.036)" d="M1.8,1.8 L3.4,0 L3.4,14" fill="none" stroke="#555" stroke-width="0.95" vector-effect="non-scaling-stroke" stroke-linecap="round" stroke-linejoin="round"/>
<path transform="translate(229.80,596.50) scale(0.950,1.036)" d="M4.4,14 L4.4,0 L0,10 L6,10" fill="none" stroke="#555" stroke-width="0.95" vector-effect="non-scaling-stroke" stroke-linecap="round" stroke-linejoin="round"/>
<path transform="translate(238.80,596.50) scale(0.950,1.036)" d="M0.4,3.2 C0.6,1 1.6,0 3,0 C4.6,0 5.6,1.2 5.6,3.4 C5.6,6.5 0.2,10 0.2,14 L5.9,14" fill="none" stroke="#555" stroke-width="0.95" vector-effect="non-scaling-stroke" stroke-linecap="round" stroke-linejoin="round"/>
<line x1="327.5" y1="540" x2="327.5" y2="611.5" stroke="#262626" stroke-width="1.2" />
<line x1="465.5" y1="327" x2="465.5" y2="390" stroke="#262626" stroke-width="1.2" />
<line x1="634.5" y1="327" x2="634.5" y2="390" stroke="#262626" stroke-width="1.2" />
<line x1="465" y1="383.5" x2="640" y2="383.5" stroke="#262626" stroke-width="1.2" />
<path d="M465.00,383.40 L486.00,379.60 L486.00,387.20 Z" fill="#1a1a1a" stroke="none"/>
<path d="M634.60,383.40 L613.60,379.60 L613.60,387.20 Z" fill="#1a1a1a" stroke="none"/>
<path transform="translate(664.00,376.60) scale(0.950,1.057)" d="M1.8,1.8 L3.4,0 L3.4,14" fill="none" stroke="#555" stroke-width="0.95" vector-effect="non-scaling-stroke" stroke-linecap="round" stroke-linejoin="round"/>
<path transform="translate(673.00,376.60) scale(0.950,1.057)" d="M0.4,2 C1,0.6 1.9,0 3,0 C4.7,0 5.6,1.4 5.6,3.5 C5.6,5.5 4.5,6.7 2.6,6.7 C4.8,6.7 5.9,8.2 5.9,10.4 C5.9,12.8 4.6,14 3,14 C1.6,14 0.6,13.2 0.1,11.8" fill="none" stroke="#555" stroke-width="0.95" vector-effect="non-scaling-stroke" stroke-linecap="round" stroke-linejoin="round"/>
<path transform="translate(682.00,376.60) scale(0.950,1.057)" d="M3,0 C1.2,0 0.2,2.8 0.2,7 C0.2,11.2 1.2,14 3,14 C4.8,14 5.8,11.2 5.8,7 C5.8,2.8 4.8,0 3,0 Z" fill="none" stroke="#555" stroke-width="0.95" vector-effect="non-scaling-stroke" stroke-linecap="round" stroke-linejoin="round"/>
<circle cx="654" cy="384.4" r="7" fill="none" stroke="#222" stroke-width="1.5" />
<line x1="650.1" y1="393.6" x2="657.8" y2="375.2" stroke="#222" stroke-width="1.5" />
<line x1="497.5" y1="415.5" x2="655" y2="415.5" stroke="#262626" stroke-width="1.2" />
<path d="M501.40,415.00 L522.40,411.20 L522.40,418.80 Z" fill="#1a1a1a" stroke="none"/>
<path d="M598.60,415.00 L577.60,411.20 L577.60,418.80 Z" fill="#1a1a1a" stroke="none"/>
<path transform="translate(659.30,408.00) scale(0.950,1.036)" d="M0,0.3 L6,0.3 L2.2,14" fill="none" stroke="#555" stroke-width="0.95" vector-effect="non-scaling-stroke" stroke-linecap="round" stroke-linejoin="round"/>
<path transform="translate(668.30,408.00) scale(0.950,1.036)" d="M4.4,14 L4.4,0 L0,10 L6,10" fill="none" stroke="#555" stroke-width="0.95" vector-effect="non-scaling-stroke" stroke-linecap="round" stroke-linejoin="round"/>
<line x1="550.5" y1="489.5" x2="550.5" y2="557.5" stroke="#222" stroke-width="1.1" />
<line x1="597.5" y1="517" x2="597.5" y2="557.5" stroke="#262626" stroke-width="1.2" />
<line x1="549" y1="550.5" x2="631" y2="550.5" stroke="#262626" stroke-width="1.2" />
<path d="M550.00,550.50 L571.00,546.70 L571.00,554.30 Z" fill="#1a1a1a" stroke="none"/>
<path d="M597.60,550.50 L576.60,546.70 L576.60,554.30 Z" fill="#1a1a1a" stroke="none"/>
<path transform="translate(636.70,542.40) scale(0.950,1.093)" d="M0.4,2 C1,0.6 1.9,0 3,0 C4.7,0 5.6,1.4 5.6,3.5 C5.6,5.5 4.5,6.7 2.6,6.7 C4.8,6.7 5.9,8.2 5.9,10.4 C5.9,12.8 4.6,14 3,14 C1.6,14 0.6,13.2 0.1,11.8" fill="none" stroke="#555" stroke-width="0.95" vector-effect="non-scaling-stroke" stroke-linecap="round" stroke-linejoin="round"/>
<path transform="translate(645.70,542.40) scale(0.950,1.093)" d="M0,0.3 L6,0.3 L2.2,14" fill="none" stroke="#555" stroke-width="0.95" vector-effect="non-scaling-stroke" stroke-linecap="round" stroke-linejoin="round"/>
<line x1="141.5" y1="692.5" x2="141.5" y2="794" stroke="#262626" stroke-width="1.2" />
<line x1="281.5" y1="717" x2="281.5" y2="794" stroke="#262626" stroke-width="1.2" />
<line x1="139.6" y1="789.5" x2="283" y2="789.5" stroke="#262626" stroke-width="1.2" />
<path d="M141.80,789.00 L156.80,786.40 L156.80,791.60 Z" fill="#1a1a1a" stroke="none"/>
<path d="M281.50,789.00 L266.50,786.40 L266.50,791.60 Z" fill="#1a1a1a" stroke="none"/>
<path transform="translate(210.90,774.20) scale(0.654,0.743)" d="M1.8,1.8 L3.4,0 L3.4,14" fill="none" stroke="#555" stroke-width="0.95" vector-effect="non-scaling-stroke" stroke-linecap="round" stroke-linejoin="round"/>
<path transform="translate(217.10,774.20) scale(0.654,0.743)" d="M5.5,0 L1,0 L0.5,6.2 C1.2,5.2 2,4.9 3,4.9 C5,4.9 5.9,6.6 5.9,9.4 C5.9,12.4 4.7,14 3,14 C1.6,14 0.6,13.1 0.1,11.8" fill="none" stroke="#555" stroke-width="0.95" vector-effect="non-scaling-stroke" stroke-linecap="round" stroke-linejoin="round"/>
<path transform="translate(223.30,774.20) scale(0.654,0.743)" d="M5.5,0 L1,0 L0.5,6.2 C1.2,5.2 2,4.9 3,4.9 C5,4.9 5.9,6.6 5.9,9.4 C5.9,12.4 4.7,14 3,14 C1.6,14 0.6,13.1 0.1,11.8" fill="none" stroke="#555" stroke-width="0.95" vector-effect="non-scaling-stroke" stroke-linecap="round" stroke-linejoin="round"/>
<circle cx="203" cy="780.4" r="5.1" fill="none" stroke="#222" stroke-width="1.3" />
<line x1="200.4" y1="786.8" x2="205.5" y2="773.9" stroke="#222" stroke-width="1.3" />
<path d="M673,212.9 L684,210.8 L684,218.6 L673,216.5 Z" fill="#1a1a1a"/>
<line x1="684" y1="214.7" x2="692.5" y2="214.7" stroke="#222" stroke-width="1.5" />
</svg>
</body></html>
